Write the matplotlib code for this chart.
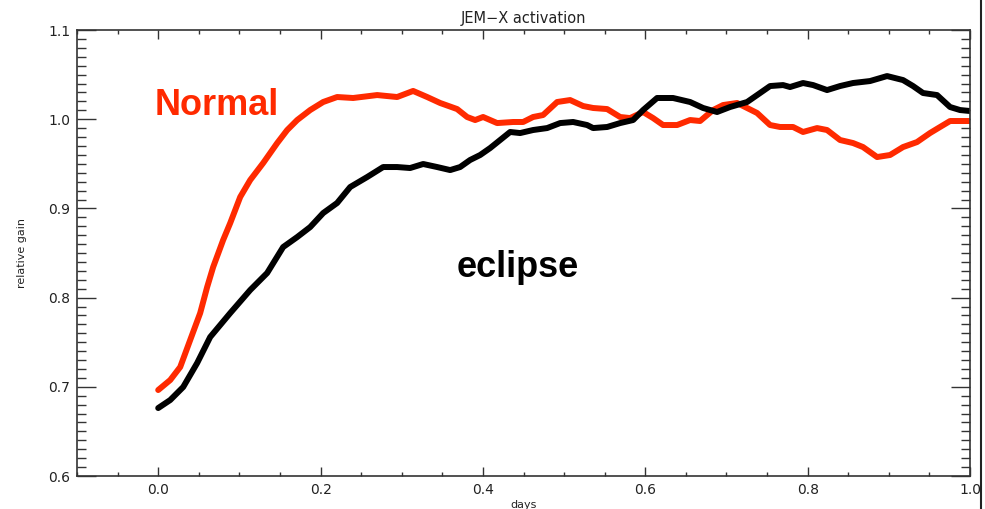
import matplotlib.pyplot as plt
from matplotlib.lines import Line2D
from matplotlib.ticker import MultipleLocator

# relative gain vs. days for the two operating modes
normal_days = [0.000, 0.0148, 0.0271, 0.0394, 0.0517, 0.0603, 0.0677, 0.0800, 0.0887, 0.1010,
               0.1133, 0.1293, 0.1466, 0.1589, 0.1712, 0.1872, 0.2032, 0.2204, 0.2401, 0.2697,
               0.2943, 0.3140, 0.3313, 0.3473, 0.3682, 0.3805, 0.3904, 0.4002, 0.4175, 0.4372,
               0.4495, 0.4618, 0.4741, 0.4914, 0.5074, 0.5234, 0.5357, 0.5530, 0.5690, 0.5813,
               0.5973, 0.6096, 0.6219, 0.6392, 0.6552, 0.6675, 0.6835, 0.6958, 0.7131, 0.7254,
               0.7377, 0.7537, 0.7660, 0.7820, 0.7943, 0.8116, 0.8239, 0.8399, 0.8559, 0.8682,
               0.8855, 0.9015, 0.9175, 0.9347, 0.9507, 0.9631, 0.9754, 1.0000]
normal_gain = [0.6964, 0.7076, 0.7222, 0.7525, 0.7827, 0.8119, 0.8343, 0.8646, 0.8836, 0.9128,
               0.9318, 0.9509, 0.9733, 0.9879, 0.9991, 1.0103, 1.0193, 1.0249, 1.0238, 1.0271,
               1.0249, 1.0317, 1.0249, 1.0182, 1.0114, 1.0025, 0.9991, 1.0025, 0.9957, 0.9969,
               0.9969, 1.0025, 1.0047, 1.0193, 1.0215, 1.0148, 1.0126, 1.0114, 1.0025, 1.0013,
               1.0081, 1.0013, 0.9935, 0.9935, 0.9991, 0.9980, 1.0103, 1.0159, 1.0182, 1.0126,
               1.0070, 0.9935, 0.9913, 0.9913, 0.9857, 0.9901, 0.9879, 0.9767, 0.9733, 0.9688,
               0.9576, 0.9599, 0.9688, 0.9744, 0.9845, 0.9913, 0.9980, 0.9980]

eclipse_days = [0.000, 0.0148, 0.0308, 0.0480, 0.0640, 0.0887, 0.1133, 0.1342, 0.1539, 0.1712,
                0.1872, 0.2032, 0.2204, 0.2365, 0.2574, 0.2771, 0.2943, 0.3103, 0.3264, 0.3436,
                0.3596, 0.3719, 0.3842, 0.3966, 0.4089, 0.4212, 0.4335, 0.4458, 0.4618, 0.4791,
                0.4951, 0.5111, 0.5283, 0.5357, 0.5530, 0.5690, 0.5850, 0.5973, 0.6145, 0.6342,
                0.6552, 0.6712, 0.6884, 0.7044, 0.7254, 0.7414, 0.7537, 0.7697, 0.7783, 0.7943,
                0.8067, 0.8239, 0.8399, 0.8559, 0.8768, 0.8978, 0.9175, 0.9298, 0.9421, 0.9594,
                0.9754, 0.9877, 1.0000]
eclipse_gain = [0.6762, 0.6852, 0.6998, 0.7267, 0.7558, 0.7827, 0.8085, 0.8276, 0.8567, 0.8679,
                0.8791, 0.8948, 0.9061, 0.9240, 0.9352, 0.9464, 0.9464, 0.9453, 0.9498, 0.9464,
                0.9430, 0.9464, 0.9543, 0.9599, 0.9677, 0.9767, 0.9857, 0.9845, 0.9879, 0.9901,
                0.9957, 0.9969, 0.9935, 0.9901, 0.9913, 0.9957, 0.9991, 1.0103, 1.0238, 1.0238,
                1.0193, 1.0126, 1.0081, 1.0137, 1.0193, 1.0294, 1.0372, 1.0383, 1.0361, 1.0406,
                1.0383, 1.0327, 1.0372, 1.0406, 1.0428, 1.0484, 1.0439, 1.0372, 1.0294, 1.0271,
                1.0137, 1.0103, 1.0092]

red = '#ff2a00'
axis_col = '#333333'

fig = plt.figure(figsize=(9.85, 5.09), dpi=100)
ax = fig.add_axes([0.0782, 0.0648, 0.9066, 0.8762])

ax.plot(normal_days, normal_gain, color=red, lw=4.3, solid_capstyle='round', solid_joinstyle='round')
ax.plot(eclipse_days, eclipse_gain, color='black', lw=4.3, solid_capstyle='round', solid_joinstyle='round')

ax.set_xlim(-0.1, 1.0)
ax.set_ylim(0.6, 1.1)
ax.xaxis.set_major_locator(MultipleLocator(0.2))
ax.xaxis.set_minor_locator(MultipleLocator(0.05))
ax.yaxis.set_major_locator(MultipleLocator(0.1))
ax.yaxis.set_minor_locator(MultipleLocator(0.01))
ax.xaxis.set_major_formatter(lambda v, p: f'{v:.1f}')
ax.yaxis.set_major_formatter(lambda v, p: f'{v:.1f}')

ax.tick_params(which='both', direction='in', top=True, right=True, color=axis_col,
               labelcolor='#222222', labelsize=10, width=1)
ax.tick_params(axis='x', which='major', length=6.5, pad=5)
ax.tick_params(axis='x', which='minor', length=3)
ax.tick_params(axis='y', which='major', length=13.5, pad=5)
ax.tick_params(axis='y', which='minor', length=6.5)
for s in ax.spines.values():
    s.set_color(axis_col)
    s.set_linewidth(1.2)

ax.set_title('JEM\u2212X activation', fontsize=10.5, color='#222222', pad=5)
ax.set_xlabel('days', fontsize=8, color='#222222', labelpad=2)
ax.set_ylabel('relative gain', fontsize=8, color='#222222', labelpad=15)

ax.text(-0.004, 1.0047, 'Normal', color=red, fontsize=26, fontweight='bold',
        family='Liberation Sans')
ax.text(0.368, 0.823, 'eclipse', color='black', fontsize=26, fontweight='bold',
        family='Liberation Sans')

# border line at the right edge of the frame
fig.add_artist(Line2D([0.9955, 0.9955], [0, 1], color='#222222', lw=1.5,
                      transform=fig.transFigure))

fig.savefig('out.png', dpi=100)
